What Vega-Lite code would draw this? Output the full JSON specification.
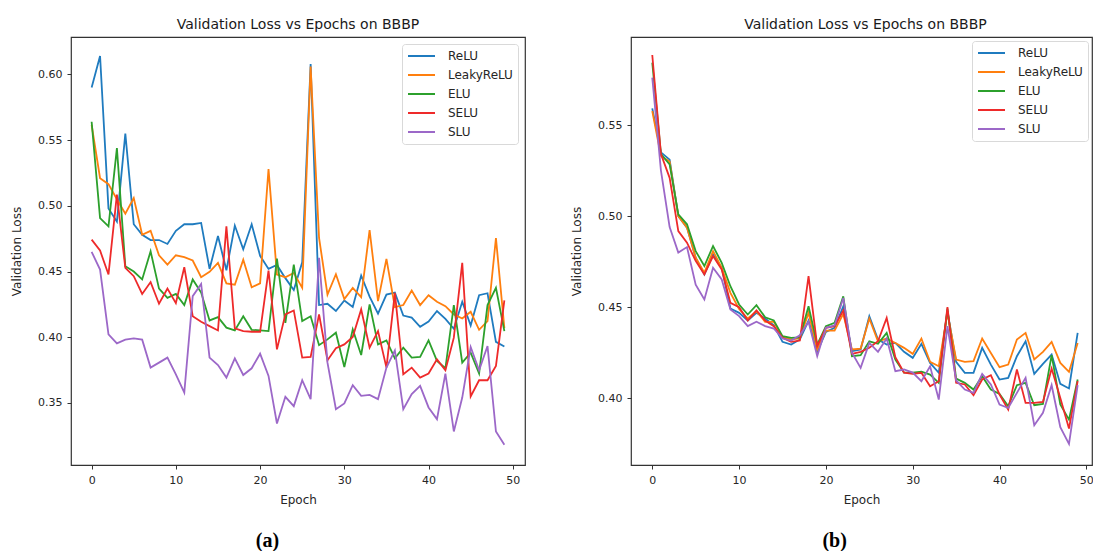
{
"$schema":"https://vega.github.io/schema/vega-lite/v6.json",
"padding":{"left":9,"top":17,"right":0,"bottom":0},
"background":"white",
"spacing":43,
"datasets":{
"a":[
{"epoch":0,"model":"ReLU","loss":0.590},{"epoch":1,"model":"ReLU","loss":0.614},{"epoch":2,"model":"ReLU","loss":0.498},{"epoch":3,"model":"ReLU","loss":0.488},{"epoch":4,"model":"ReLU","loss":0.555},{"epoch":5,"model":"ReLU","loss":0.486},{"epoch":6,"model":"ReLU","loss":0.478},{"epoch":7,"model":"ReLU","loss":0.474},{"epoch":8,"model":"ReLU","loss":0.474},{"epoch":9,"model":"ReLU","loss":0.471},{"epoch":10,"model":"ReLU","loss":0.481},{"epoch":11,"model":"ReLU","loss":0.486},{"epoch":12,"model":"ReLU","loss":0.486},{"epoch":13,"model":"ReLU","loss":0.487},{"epoch":14,"model":"ReLU","loss":0.452},{"epoch":15,"model":"ReLU","loss":0.477},{"epoch":16,"model":"ReLU","loss":0.451},{"epoch":17,"model":"ReLU","loss":0.485},{"epoch":18,"model":"ReLU","loss":0.467},{"epoch":19,"model":"ReLU","loss":0.486},{"epoch":20,"model":"ReLU","loss":0.462},{"epoch":21,"model":"ReLU","loss":0.452},{"epoch":22,"model":"ReLU","loss":0.455},{"epoch":23,"model":"ReLU","loss":0.445},{"epoch":24,"model":"ReLU","loss":0.436},{"epoch":25,"model":"ReLU","loss":0.457},{"epoch":26,"model":"ReLU","loss":0.608},{"epoch":27,"model":"ReLU","loss":0.4245},{"epoch":28,"model":"ReLU","loss":0.4255},{"epoch":29,"model":"ReLU","loss":0.420},{"epoch":30,"model":"ReLU","loss":0.428},{"epoch":31,"model":"ReLU","loss":0.423},{"epoch":32,"model":"ReLU","loss":0.447},{"epoch":33,"model":"ReLU","loss":0.431},{"epoch":34,"model":"ReLU","loss":0.418},{"epoch":35,"model":"ReLU","loss":0.4325},{"epoch":36,"model":"ReLU","loss":0.434},{"epoch":37,"model":"ReLU","loss":0.4165},{"epoch":38,"model":"ReLU","loss":0.415},{"epoch":39,"model":"ReLU","loss":0.408},{"epoch":40,"model":"ReLU","loss":0.412},{"epoch":41,"model":"ReLU","loss":0.420},{"epoch":42,"model":"ReLU","loss":0.414},{"epoch":43,"model":"ReLU","loss":0.4065},{"epoch":44,"model":"ReLU","loss":0.427},{"epoch":45,"model":"ReLU","loss":0.409},{"epoch":46,"model":"ReLU","loss":0.432},{"epoch":47,"model":"ReLU","loss":0.4335},{"epoch":48,"model":"ReLU","loss":0.3965},{"epoch":49,"model":"ReLU","loss":0.393},
{"epoch":0,"model":"LeakyReLU","loss":0.5616},{"epoch":1,"model":"LeakyReLU","loss":0.521},{"epoch":2,"model":"LeakyReLU","loss":0.5165},{"epoch":3,"model":"LeakyReLU","loss":0.505},{"epoch":4,"model":"LeakyReLU","loss":0.494},{"epoch":5,"model":"LeakyReLU","loss":0.506},{"epoch":6,"model":"LeakyReLU","loss":0.478},{"epoch":7,"model":"LeakyReLU","loss":0.481},{"epoch":8,"model":"LeakyReLU","loss":0.4624},{"epoch":9,"model":"LeakyReLU","loss":0.4553},{"epoch":10,"model":"LeakyReLU","loss":0.4624},{"epoch":11,"model":"LeakyReLU","loss":0.461},{"epoch":12,"model":"LeakyReLU","loss":0.4584},{"epoch":13,"model":"LeakyReLU","loss":0.4457},{"epoch":14,"model":"LeakyReLU","loss":0.4498},{"epoch":15,"model":"LeakyReLU","loss":0.4566},{"epoch":16,"model":"LeakyReLU","loss":0.441},{"epoch":17,"model":"LeakyReLU","loss":0.440},{"epoch":18,"model":"LeakyReLU","loss":0.459},{"epoch":19,"model":"LeakyReLU","loss":0.438},{"epoch":20,"model":"LeakyReLU","loss":0.441},{"epoch":21,"model":"LeakyReLU","loss":0.528},{"epoch":22,"model":"LeakyReLU","loss":0.4477},{"epoch":23,"model":"LeakyReLU","loss":0.4457},{"epoch":24,"model":"LeakyReLU","loss":0.449},{"epoch":25,"model":"LeakyReLU","loss":0.4376},{"epoch":26,"model":"LeakyReLU","loss":0.606},{"epoch":27,"model":"LeakyReLU","loss":0.4756},{"epoch":28,"model":"LeakyReLU","loss":0.4325},{"epoch":29,"model":"LeakyReLU","loss":0.448},{"epoch":30,"model":"LeakyReLU","loss":0.429},{"epoch":31,"model":"LeakyReLU","loss":0.4376},{"epoch":32,"model":"LeakyReLU","loss":0.4305},{"epoch":33,"model":"LeakyReLU","loss":0.4816},{"epoch":34,"model":"LeakyReLU","loss":0.4275},{"epoch":35,"model":"LeakyReLU","loss":0.4596},{"epoch":36,"model":"LeakyReLU","loss":0.423},{"epoch":37,"model":"LeakyReLU","loss":0.4245},{"epoch":38,"model":"LeakyReLU","loss":0.4356},{"epoch":39,"model":"LeakyReLU","loss":0.4245},{"epoch":40,"model":"LeakyReLU","loss":0.432},{"epoch":41,"model":"LeakyReLU","loss":0.427},{"epoch":42,"model":"LeakyReLU","loss":0.4237},{"epoch":43,"model":"LeakyReLU","loss":0.4174},{"epoch":44,"model":"LeakyReLU","loss":0.4143},{"epoch":45,"model":"LeakyReLU","loss":0.4194},{"epoch":46,"model":"LeakyReLU","loss":0.4057},{"epoch":47,"model":"LeakyReLU","loss":0.4123},{"epoch":48,"model":"LeakyReLU","loss":0.4755},{"epoch":49,"model":"LeakyReLU","loss":0.407},
{"epoch":0,"model":"ELU","loss":0.564},{"epoch":1,"model":"ELU","loss":0.4907},{"epoch":2,"model":"ELU","loss":0.4844},{"epoch":3,"model":"ELU","loss":0.5439},{"epoch":4,"model":"ELU","loss":0.454},{"epoch":5,"model":"ELU","loss":0.450},{"epoch":6,"model":"ELU","loss":0.444},{"epoch":7,"model":"ELU","loss":0.4654},{"epoch":8,"model":"ELU","loss":0.437},{"epoch":9,"model":"ELU","loss":0.430},{"epoch":10,"model":"ELU","loss":0.433},{"epoch":11,"model":"ELU","loss":0.4245},{"epoch":12,"model":"ELU","loss":0.444},{"epoch":13,"model":"ELU","loss":0.434},{"epoch":14,"model":"ELU","loss":0.4128},{"epoch":15,"model":"ELU","loss":0.4153},{"epoch":16,"model":"ELU","loss":0.4073},{"epoch":17,"model":"ELU","loss":0.4052},{"epoch":18,"model":"ELU","loss":0.416},{"epoch":19,"model":"ELU","loss":0.4057},{"epoch":20,"model":"ELU","loss":0.4052},{"epoch":21,"model":"ELU","loss":0.4047},{"epoch":22,"model":"ELU","loss":0.4599},{"epoch":23,"model":"ELU","loss":0.411},{"epoch":24,"model":"ELU","loss":0.4553},{"epoch":25,"model":"ELU","loss":0.4123},{"epoch":26,"model":"ELU","loss":0.416},{"epoch":27,"model":"ELU","loss":0.394},{"epoch":28,"model":"ELU","loss":0.3984},{"epoch":29,"model":"ELU","loss":0.4035},{"epoch":30,"model":"ELU","loss":0.3774},{"epoch":31,"model":"ELU","loss":0.406},{"epoch":32,"model":"ELU","loss":0.3865},{"epoch":33,"model":"ELU","loss":0.425},{"epoch":34,"model":"ELU","loss":0.3946},{"epoch":35,"model":"ELU","loss":0.3976},{"epoch":36,"model":"ELU","loss":0.384},{"epoch":37,"model":"ELU","loss":0.392},{"epoch":38,"model":"ELU","loss":0.3845},{"epoch":39,"model":"ELU","loss":0.385},{"epoch":40,"model":"ELU","loss":0.3976},{"epoch":41,"model":"ELU","loss":0.382},{"epoch":42,"model":"ELU","loss":0.3764},{"epoch":43,"model":"ELU","loss":0.4245},{"epoch":44,"model":"ELU","loss":0.3807},{"epoch":45,"model":"ELU","loss":0.3883},{"epoch":46,"model":"ELU","loss":0.3724},{"epoch":47,"model":"ELU","loss":0.4245},{"epoch":48,"model":"ELU","loss":0.4376},{"epoch":49,"model":"ELU","loss":0.4047},
{"epoch":0,"model":"SELU","loss":0.4743},{"epoch":1,"model":"SELU","loss":0.466},{"epoch":2,"model":"SELU","loss":0.4478},{"epoch":3,"model":"SELU","loss":0.5085},{"epoch":4,"model":"SELU","loss":0.4528},{"epoch":5,"model":"SELU","loss":0.4465},{"epoch":6,"model":"SELU","loss":0.433},{"epoch":7,"model":"SELU","loss":0.442},{"epoch":8,"model":"SELU","loss":0.4255},{"epoch":9,"model":"SELU","loss":0.437},{"epoch":10,"model":"SELU","loss":0.426},{"epoch":11,"model":"SELU","loss":0.4533},{"epoch":12,"model":"SELU","loss":0.416},{"epoch":13,"model":"SELU","loss":0.4118},{"epoch":14,"model":"SELU","loss":0.4085},{"epoch":15,"model":"SELU","loss":0.4052},{"epoch":16,"model":"SELU","loss":0.4844},{"epoch":17,"model":"SELU","loss":0.4068},{"epoch":18,"model":"SELU","loss":0.4047},{"epoch":19,"model":"SELU","loss":0.4042},{"epoch":20,"model":"SELU","loss":0.4042},{"epoch":21,"model":"SELU","loss":0.4508},{"epoch":22,"model":"SELU","loss":0.3908},{"epoch":23,"model":"SELU","loss":0.4174},{"epoch":24,"model":"SELU","loss":0.4204},{"epoch":25,"model":"SELU","loss":0.3845},{"epoch":26,"model":"SELU","loss":0.385},{"epoch":27,"model":"SELU","loss":0.4174},{"epoch":28,"model":"SELU","loss":0.3825},{"epoch":29,"model":"SELU","loss":0.3916},{"epoch":30,"model":"SELU","loss":0.3946},{"epoch":31,"model":"SELU","loss":0.4002},{"epoch":32,"model":"SELU","loss":0.4212},{"epoch":33,"model":"SELU","loss":0.3921},{"epoch":34,"model":"SELU","loss":0.4047},{"epoch":35,"model":"SELU","loss":0.3769},{"epoch":36,"model":"SELU","loss":0.4338},{"epoch":37,"model":"SELU","loss":0.3718},{"epoch":38,"model":"SELU","loss":0.3769},{"epoch":39,"model":"SELU","loss":0.3693},{"epoch":40,"model":"SELU","loss":0.3724},{"epoch":41,"model":"SELU","loss":0.3832},{"epoch":42,"model":"SELU","loss":0.3749},{"epoch":43,"model":"SELU","loss":0.3997},{"epoch":44,"model":"SELU","loss":0.4566},{"epoch":45,"model":"SELU","loss":0.3549},{"epoch":46,"model":"SELU","loss":0.3673},{"epoch":47,"model":"SELU","loss":0.3673},{"epoch":48,"model":"SELU","loss":0.3782},{"epoch":49,"model":"SELU","loss":0.428},
{"epoch":0,"model":"SLU","loss":0.465},{"epoch":1,"model":"SLU","loss":0.4515},{"epoch":2,"model":"SLU","loss":0.4022},{"epoch":3,"model":"SLU","loss":0.3954},{"epoch":4,"model":"SLU","loss":0.3982},{"epoch":5,"model":"SLU","loss":0.3992},{"epoch":6,"model":"SLU","loss":0.3982},{"epoch":7,"model":"SLU","loss":0.3769},{"epoch":8,"model":"SLU","loss":0.3807},{"epoch":9,"model":"SLU","loss":0.3845},{"epoch":10,"model":"SLU","loss":0.3718},{"epoch":11,"model":"SLU","loss":0.3579},{"epoch":12,"model":"SLU","loss":0.4313},{"epoch":13,"model":"SLU","loss":0.4406},{"epoch":14,"model":"SLU","loss":0.3845},{"epoch":15,"model":"SLU","loss":0.3789},{"epoch":16,"model":"SLU","loss":0.3693},{"epoch":17,"model":"SLU","loss":0.384},{"epoch":18,"model":"SLU","loss":0.3713},{"epoch":19,"model":"SLU","loss":0.3764},{"epoch":20,"model":"SLU","loss":0.3875},{"epoch":21,"model":"SLU","loss":0.3706},{"epoch":22,"model":"SLU","loss":0.3344},{"epoch":23,"model":"SLU","loss":0.3547},{"epoch":24,"model":"SLU","loss":0.3476},{"epoch":25,"model":"SLU","loss":0.3673},{"epoch":26,"model":"SLU","loss":0.3529},{"epoch":27,"model":"SLU","loss":0.4604},{"epoch":28,"model":"SLU","loss":0.3807},{"epoch":29,"model":"SLU","loss":0.3453},{"epoch":30,"model":"SLU","loss":0.3496},{"epoch":31,"model":"SLU","loss":0.3635},{"epoch":32,"model":"SLU","loss":0.3554},{"epoch":33,"model":"SLU","loss":0.3562},{"epoch":34,"model":"SLU","loss":0.3529},{"epoch":35,"model":"SLU","loss":0.3769},{"epoch":36,"model":"SLU","loss":0.390},{"epoch":37,"model":"SLU","loss":0.3453},{"epoch":38,"model":"SLU","loss":0.3567},{"epoch":39,"model":"SLU","loss":0.363},{"epoch":40,"model":"SLU","loss":0.3466},{"epoch":41,"model":"SLU","loss":0.3377},{"epoch":42,"model":"SLU","loss":0.3724},{"epoch":43,"model":"SLU","loss":0.3283},{"epoch":44,"model":"SLU","loss":0.3541},{"epoch":45,"model":"SLU","loss":0.3926},{"epoch":46,"model":"SLU","loss":0.3749},{"epoch":47,"model":"SLU","loss":0.3933},{"epoch":48,"model":"SLU","loss":0.3283},{"epoch":49,"model":"SLU","loss":0.3182}
],
"b":[
{"epoch":0,"model":"ReLU","loss":0.5591},{"epoch":1,"model":"ReLU","loss":0.535},{"epoch":2,"model":"ReLU","loss":0.531},{"epoch":3,"model":"ReLU","loss":0.500},{"epoch":4,"model":"ReLU","loss":0.4937},{"epoch":5,"model":"ReLU","loss":0.4772},{"epoch":6,"model":"ReLU","loss":0.468},{"epoch":7,"model":"ReLU","loss":0.479},{"epoch":8,"model":"ReLU","loss":0.4716},{"epoch":9,"model":"ReLU","loss":0.4493},{"epoch":10,"model":"ReLU","loss":0.4469},{"epoch":11,"model":"ReLU","loss":0.4427},{"epoch":12,"model":"ReLU","loss":0.4469},{"epoch":13,"model":"ReLU","loss":0.4438},{"epoch":14,"model":"ReLU","loss":0.4401},{"epoch":15,"model":"ReLU","loss":0.431},{"epoch":16,"model":"ReLU","loss":0.4295},{"epoch":17,"model":"ReLU","loss":0.4323},{"epoch":18,"model":"ReLU","loss":0.4427},{"epoch":19,"model":"ReLU","loss":0.4255},{"epoch":20,"model":"ReLU","loss":0.4365},{"epoch":21,"model":"ReLU","loss":0.4387},{"epoch":22,"model":"ReLU","loss":0.4505},{"epoch":23,"model":"ReLU","loss":0.4258},{"epoch":24,"model":"ReLU","loss":0.4268},{"epoch":25,"model":"ReLU","loss":0.445},{"epoch":26,"model":"ReLU","loss":0.4323},{"epoch":27,"model":"ReLU","loss":0.4295},{"epoch":28,"model":"ReLU","loss":0.4304},{"epoch":29,"model":"ReLU","loss":0.4255},{"epoch":30,"model":"ReLU","loss":0.4222},{"epoch":31,"model":"ReLU","loss":0.4299},{"epoch":32,"model":"ReLU","loss":0.4194},{"epoch":33,"model":"ReLU","loss":0.414},{"epoch":34,"model":"ReLU","loss":0.4478},{"epoch":35,"model":"ReLU","loss":0.420},{"epoch":36,"model":"ReLU","loss":0.414},{"epoch":37,"model":"ReLU","loss":0.414},{"epoch":38,"model":"ReLU","loss":0.4277},{"epoch":39,"model":"ReLU","loss":0.4185},{"epoch":40,"model":"ReLU","loss":0.4103},{"epoch":41,"model":"ReLU","loss":0.4112},{"epoch":42,"model":"ReLU","loss":0.4231},{"epoch":43,"model":"ReLU","loss":0.4313},{"epoch":44,"model":"ReLU","loss":0.4134},{"epoch":45,"model":"ReLU","loss":0.4189},{"epoch":46,"model":"ReLU","loss":0.424},{"epoch":47,"model":"ReLU","loss":0.4079},{"epoch":48,"model":"ReLU","loss":0.4054},{"epoch":49,"model":"ReLU","loss":0.4359},
{"epoch":0,"model":"LeakyReLU","loss":0.5577},{"epoch":1,"model":"LeakyReLU","loss":0.533},{"epoch":2,"model":"LeakyReLU","loss":0.530},{"epoch":3,"model":"LeakyReLU","loss":0.500},{"epoch":4,"model":"LeakyReLU","loss":0.4937},{"epoch":5,"model":"LeakyReLU","loss":0.4772},{"epoch":6,"model":"LeakyReLU","loss":0.469},{"epoch":7,"model":"LeakyReLU","loss":0.4808},{"epoch":8,"model":"LeakyReLU","loss":0.4716},{"epoch":9,"model":"LeakyReLU","loss":0.4579},{"epoch":10,"model":"LeakyReLU","loss":0.449},{"epoch":11,"model":"LeakyReLU","loss":0.4438},{"epoch":12,"model":"LeakyReLU","loss":0.4478},{"epoch":13,"model":"LeakyReLU","loss":0.442},{"epoch":14,"model":"LeakyReLU","loss":0.442},{"epoch":15,"model":"LeakyReLU","loss":0.4335},{"epoch":16,"model":"LeakyReLU","loss":0.4323},{"epoch":17,"model":"LeakyReLU","loss":0.433},{"epoch":18,"model":"LeakyReLU","loss":0.4469},{"epoch":19,"model":"LeakyReLU","loss":0.4268},{"epoch":20,"model":"LeakyReLU","loss":0.4372},{"epoch":21,"model":"LeakyReLU","loss":0.4372},{"epoch":22,"model":"LeakyReLU","loss":0.4463},{"epoch":23,"model":"LeakyReLU","loss":0.4268},{"epoch":24,"model":"LeakyReLU","loss":0.4273},{"epoch":25,"model":"LeakyReLU","loss":0.4438},{"epoch":26,"model":"LeakyReLU","loss":0.4313},{"epoch":27,"model":"LeakyReLU","loss":0.4328},{"epoch":28,"model":"LeakyReLU","loss":0.4304},{"epoch":29,"model":"LeakyReLU","loss":0.4277},{"epoch":30,"model":"LeakyReLU","loss":0.4244},{"epoch":31,"model":"LeakyReLU","loss":0.4328},{"epoch":32,"model":"LeakyReLU","loss":0.420},{"epoch":33,"model":"LeakyReLU","loss":0.4176},{"epoch":34,"model":"LeakyReLU","loss":0.4469},{"epoch":35,"model":"LeakyReLU","loss":0.4213},{"epoch":36,"model":"LeakyReLU","loss":0.420},{"epoch":37,"model":"LeakyReLU","loss":0.4204},{"epoch":38,"model":"LeakyReLU","loss":0.4328},{"epoch":39,"model":"LeakyReLU","loss":0.4249},{"epoch":40,"model":"LeakyReLU","loss":0.4171},{"epoch":41,"model":"LeakyReLU","loss":0.4185},{"epoch":42,"model":"LeakyReLU","loss":0.4323},{"epoch":43,"model":"LeakyReLU","loss":0.4359},{"epoch":44,"model":"LeakyReLU","loss":0.4213},{"epoch":45,"model":"LeakyReLU","loss":0.4255},{"epoch":46,"model":"LeakyReLU","loss":0.431},{"epoch":47,"model":"LeakyReLU","loss":0.4194},{"epoch":48,"model":"LeakyReLU","loss":0.4145},{"epoch":49,"model":"LeakyReLU","loss":0.4304},
{"epoch":0,"model":"ELU","loss":0.5842},{"epoch":1,"model":"ELU","loss":0.534},{"epoch":2,"model":"ELU","loss":0.5284},{"epoch":3,"model":"ELU","loss":0.501},{"epoch":4,"model":"ELU","loss":0.4955},{"epoch":5,"model":"ELU","loss":0.4808},{"epoch":6,"model":"ELU","loss":0.4726},{"epoch":7,"model":"ELU","loss":0.4836},{"epoch":8,"model":"ELU","loss":0.4743},{"epoch":9,"model":"ELU","loss":0.4615},{"epoch":10,"model":"ELU","loss":0.4515},{"epoch":11,"model":"ELU","loss":0.446},{"epoch":12,"model":"ELU","loss":0.4511},{"epoch":13,"model":"ELU","loss":0.4445},{"epoch":14,"model":"ELU","loss":0.4427},{"epoch":15,"model":"ELU","loss":0.4341},{"epoch":16,"model":"ELU","loss":0.4332},{"epoch":17,"model":"ELU","loss":0.4335},{"epoch":18,"model":"ELU","loss":0.4505},{"epoch":19,"model":"ELU","loss":0.4295},{"epoch":20,"model":"ELU","loss":0.4396},{"epoch":21,"model":"ELU","loss":0.4414},{"epoch":22,"model":"ELU","loss":0.456},{"epoch":23,"model":"ELU","loss":0.4231},{"epoch":24,"model":"ELU","loss":0.4237},{"epoch":25,"model":"ELU","loss":0.4313},{"epoch":26,"model":"ELU","loss":0.4299},{"epoch":27,"model":"ELU","loss":0.4359},{"epoch":28,"model":"ELU","loss":0.4213},{"epoch":29,"model":"ELU","loss":0.4141},{"epoch":30,"model":"ELU","loss":0.4141},{"epoch":31,"model":"ELU","loss":0.4146},{"epoch":32,"model":"ELU","loss":0.413},{"epoch":33,"model":"ELU","loss":0.4085},{"epoch":34,"model":"ELU","loss":0.4493},{"epoch":35,"model":"ELU","loss":0.4108},{"epoch":36,"model":"ELU","loss":0.4085},{"epoch":37,"model":"ELU","loss":0.4048},{"epoch":38,"model":"ELU","loss":0.4121},{"epoch":39,"model":"ELU","loss":0.4048},{"epoch":40,"model":"ELU","loss":0.4024},{"epoch":41,"model":"ELU","loss":0.3957},{"epoch":42,"model":"ELU","loss":0.4072},{"epoch":43,"model":"ELU","loss":0.4085},{"epoch":44,"model":"ELU","loss":0.3962},{"epoch":45,"model":"ELU","loss":0.3969},{"epoch":46,"model":"ELU","loss":0.4237},{"epoch":47,"model":"ELU","loss":0.3966},{"epoch":48,"model":"ELU","loss":0.3883},{"epoch":49,"model":"ELU","loss":0.4103},
{"epoch":0,"model":"SELU","loss":0.5884},{"epoch":1,"model":"SELU","loss":0.534},{"epoch":2,"model":"SELU","loss":0.521},{"epoch":3,"model":"SELU","loss":0.4918},{"epoch":4,"model":"SELU","loss":0.4854},{"epoch":5,"model":"SELU","loss":0.4754},{"epoch":6,"model":"SELU","loss":0.468},{"epoch":7,"model":"SELU","loss":0.4781},{"epoch":8,"model":"SELU","loss":0.4707},{"epoch":9,"model":"SELU","loss":0.4524},{"epoch":10,"model":"SELU","loss":0.450},{"epoch":11,"model":"SELU","loss":0.4427},{"epoch":12,"model":"SELU","loss":0.4482},{"epoch":13,"model":"SELU","loss":0.4427},{"epoch":14,"model":"SELU","loss":0.4396},{"epoch":15,"model":"SELU","loss":0.4332},{"epoch":16,"model":"SELU","loss":0.431},{"epoch":17,"model":"SELU","loss":0.4317},{"epoch":18,"model":"SELU","loss":0.467},{"epoch":19,"model":"SELU","loss":0.4286},{"epoch":20,"model":"SELU","loss":0.4387},{"epoch":21,"model":"SELU","loss":0.4396},{"epoch":22,"model":"SELU","loss":0.4482},{"epoch":23,"model":"SELU","loss":0.4244},{"epoch":24,"model":"SELU","loss":0.4255},{"epoch":25,"model":"SELU","loss":0.4277},{"epoch":26,"model":"SELU","loss":0.4313},{"epoch":27,"model":"SELU","loss":0.4441},{"epoch":28,"model":"SELU","loss":0.4226},{"epoch":29,"model":"SELU","loss":0.4141},{"epoch":30,"model":"SELU","loss":0.4134},{"epoch":31,"model":"SELU","loss":0.414},{"epoch":32,"model":"SELU","loss":0.4066},{"epoch":33,"model":"SELU","loss":0.4094},{"epoch":34,"model":"SELU","loss":0.450},{"epoch":35,"model":"SELU","loss":0.4085},{"epoch":36,"model":"SELU","loss":0.4076},{"epoch":37,"model":"SELU","loss":0.4017},{"epoch":38,"model":"SELU","loss":0.4103},{"epoch":39,"model":"SELU","loss":0.4127},{"epoch":40,"model":"SELU","loss":0.4021},{"epoch":41,"model":"SELU","loss":0.3938},{"epoch":42,"model":"SELU","loss":0.4158},{"epoch":43,"model":"SELU","loss":0.3975},{"epoch":44,"model":"SELU","loss":0.3975},{"epoch":45,"model":"SELU","loss":0.398},{"epoch":46,"model":"SELU","loss":0.4163},{"epoch":47,"model":"SELU","loss":0.4002},{"epoch":48,"model":"SELU","loss":0.3834},{"epoch":49,"model":"SELU","loss":0.4094},
{"epoch":0,"model":"SLU","loss":0.576},{"epoch":1,"model":"SLU","loss":0.525},{"epoch":2,"model":"SLU","loss":0.494},{"epoch":3,"model":"SLU","loss":0.480},{"epoch":4,"model":"SLU","loss":0.483},{"epoch":5,"model":"SLU","loss":0.4624},{"epoch":6,"model":"SLU","loss":0.4542},{"epoch":7,"model":"SLU","loss":0.4717},{"epoch":8,"model":"SLU","loss":0.4652},{"epoch":9,"model":"SLU","loss":0.4487},{"epoch":10,"model":"SLU","loss":0.4451},{"epoch":11,"model":"SLU","loss":0.4396},{"epoch":12,"model":"SLU","loss":0.442},{"epoch":13,"model":"SLU","loss":0.4396},{"epoch":14,"model":"SLU","loss":0.4383},{"epoch":15,"model":"SLU","loss":0.4328},{"epoch":16,"model":"SLU","loss":0.4317},{"epoch":17,"model":"SLU","loss":0.4346},{"epoch":18,"model":"SLU","loss":0.442},{"epoch":19,"model":"SLU","loss":0.4231},{"epoch":20,"model":"SLU","loss":0.4387},{"epoch":21,"model":"SLU","loss":0.4401},{"epoch":22,"model":"SLU","loss":0.4551},{"epoch":23,"model":"SLU","loss":0.425},{"epoch":24,"model":"SLU","loss":0.4167},{"epoch":25,"model":"SLU","loss":0.4304},{"epoch":26,"model":"SLU","loss":0.4255},{"epoch":27,"model":"SLU","loss":0.4328},{"epoch":28,"model":"SLU","loss":0.4149},{"epoch":29,"model":"SLU","loss":0.4158},{"epoch":30,"model":"SLU","loss":0.4141},{"epoch":31,"model":"SLU","loss":0.4094},{"epoch":32,"model":"SLU","loss":0.4176},{"epoch":33,"model":"SLU","loss":0.3993},{"epoch":34,"model":"SLU","loss":0.4396},{"epoch":35,"model":"SLU","loss":0.4098},{"epoch":36,"model":"SLU","loss":0.4048},{"epoch":37,"model":"SLU","loss":0.403},{"epoch":38,"model":"SLU","loss":0.4134},{"epoch":39,"model":"SLU","loss":0.4076},{"epoch":40,"model":"SLU","loss":0.3966},{"epoch":41,"model":"SLU","loss":0.3947},{"epoch":42,"model":"SLU","loss":0.403},{"epoch":43,"model":"SLU","loss":0.4112},{"epoch":44,"model":"SLU","loss":0.3852},{"epoch":45,"model":"SLU","loss":0.392},{"epoch":46,"model":"SLU","loss":0.4072},{"epoch":47,"model":"SLU","loss":0.3841},{"epoch":48,"model":"SLU","loss":0.375},{"epoch":49,"model":"SLU","loss":0.4072}
]
},
"hconcat":[
{"title":{"text":"(a)","orient":"bottom","anchor":"middle","font":"Liberation Serif","fontSize":20,"fontWeight":"bold","color":"#000000","offset":25},
 "resolve":{"scale":{"color":"independent"},"legend":{"color":"independent"}},
 "vconcat":[{
  "width":454,"height":428,
  "title":{"text":"Validation Loss vs Epochs on BBBP","frame":"group","anchor":"middle","baseline":"alphabetic","offset":-6,"font":"DejaVu Sans","fontSize":14,"fontWeight":"normal","color":"#1a1a1a"},
  "data":{"name":"a"},
  "mark":{"type":"line","strokeWidth":1.8,"clip":true},
  "encoding":{
   "x":{"field":"epoch","type":"quantitative","scale":{"domain":[-2.45,51.45],"nice":false,"zero":false},"axis":{"values":[0,10,20,30,40,50],"title":"Epoch"}},
   "y":{"field":"loss","type":"quantitative","scale":{"domain":[0.3028,0.6285],"nice":false,"zero":false},"axis":{"values":[0.35,0.40,0.45,0.50,0.55,0.60],"format":".2f","title":"Validation Loss"}},
   "color":{"field":"model","type":"nominal","scale":{"domain":["ReLU","LeakyReLU","ELU","SELU","SLU"],"range":["#1f7bbf","#ff7f0e","#2ca02c","#ee2a2a","#9c68c8"]},"legend":{"orient":"top-right","offset":7}}
  }
 }]
},
{"title":{"text":"(b)","orient":"bottom","anchor":"middle","font":"Liberation Serif","fontSize":20,"fontWeight":"bold","color":"#000000","offset":25,"dx":3},
 "resolve":{"scale":{"color":"independent"},"legend":{"color":"independent"}},
 "vconcat":[{
  "width":461,"height":428,
  "title":{"text":"Validation Loss vs Epochs on BBBP","frame":"group","anchor":"middle","baseline":"alphabetic","offset":-6,"dx":4,"font":"DejaVu Sans","fontSize":14,"fontWeight":"normal","color":"#1a1a1a"},
  "data":{"name":"b"},
  "mark":{"type":"line","strokeWidth":1.8,"clip":true},
  "encoding":{
   "x":{"field":"epoch","type":"quantitative","scale":{"domain":[-2.45,50.65],"nice":false,"zero":false},"axis":{"values":[0,10,20,30,40,50],"title":"Epoch"}},
   "y":{"field":"loss","type":"quantitative","scale":{"domain":[0.3634,0.5983],"nice":false,"zero":false},"axis":{"values":[0.40,0.45,0.50,0.55],"format":".2f","title":"Validation Loss"}},
   "color":{"field":"model","type":"nominal","scale":{"domain":["ReLU","LeakyReLU","ELU","SELU","SLU"],"range":["#1f7bbf","#ff7f0e","#2ca02c","#ee2a2a","#9c68c8"]},"legend":{"orient":"top-right","offset":4}}
  }
 }]
}
],
"resolve":{"scale":{"color":"independent"},"legend":{"color":"independent"}},
"config":{
 "view":{"stroke":"#333333","strokeWidth":1.2},
 "axis":{"domain":false,"grid":false,"ticks":true,"tickColor":"#333333","tickSize":4,"tickWidth":1,"labelFont":"DejaVu Sans","labelFontSize":11,"labelColor":"#262626","labelPadding":5,"titleFont":"DejaVu Sans","titleFontSize":12,"titleFontWeight":"normal","titleColor":"#262626"},
 "axisX":{"titlePadding":9,"labelFlush":false},
 "axisY":{"minExtent":38,"maxExtent":38,"titlePadding":10,"labelFlush":false},
 "legend":{"title":null,"symbolType":"stroke","symbolSize":729,"clipHeight":14,"symbolStrokeWidth":2,"labelFont":"DejaVu Sans","labelFontSize":12,"labelColor":"#262626","labelAlign":"left","labelOffset":12,"rowPadding":5,"padding":5,"strokeColor":"#d9d9d9","fillColor":"#ffffff","cornerRadius":3}
}
}
